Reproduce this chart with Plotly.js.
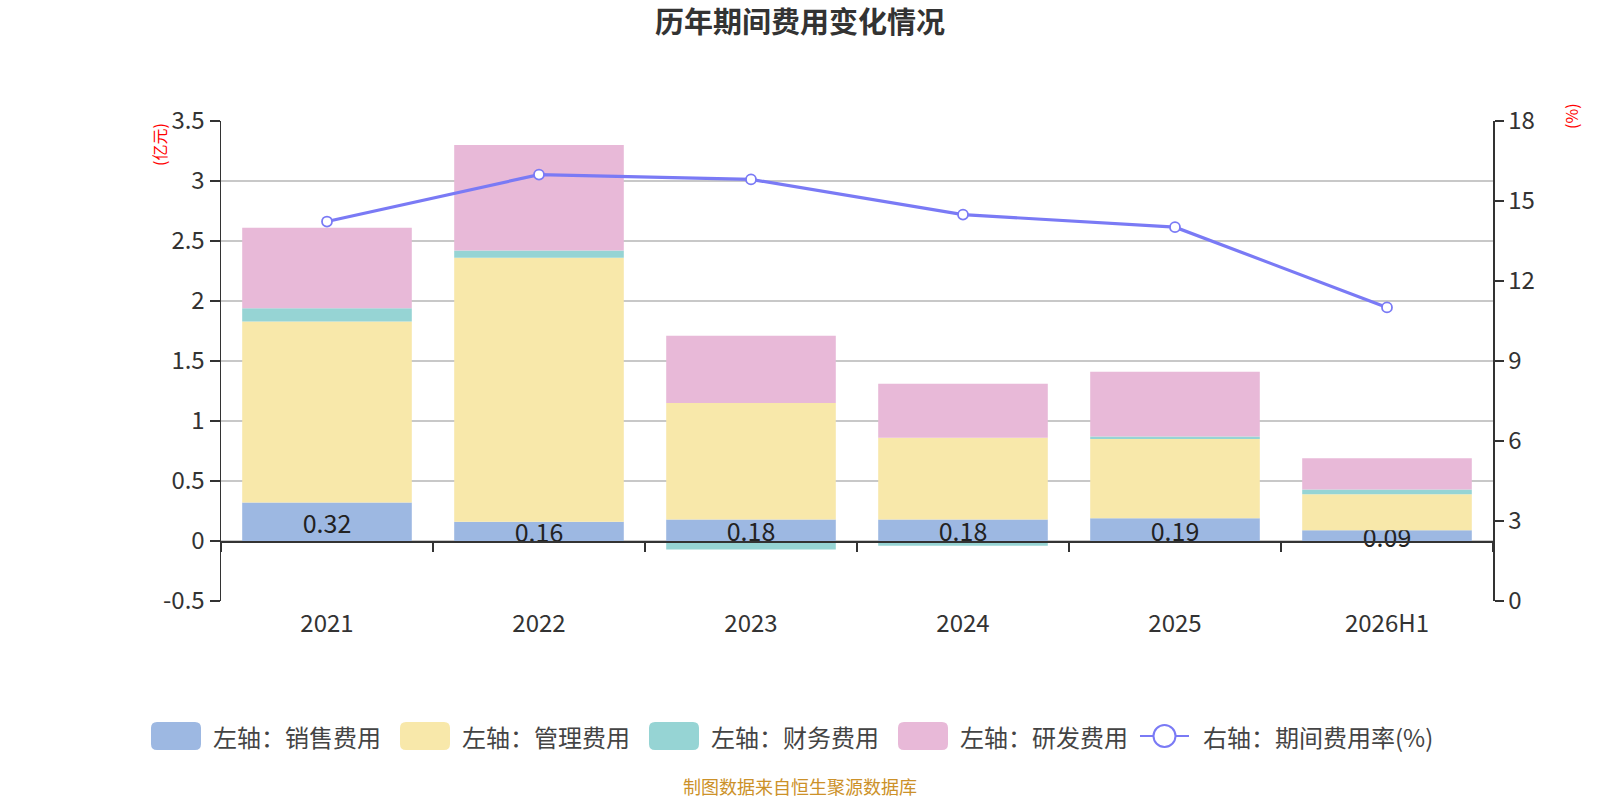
<!DOCTYPE html>
<html>
<head>
<meta charset="utf-8">
<script src="https://cdn.plot.ly/plotly-3.0.1.min.js"></script>
<style>
  html, body { margin: 0; padding: 0; background: #fff; }
  #chart { width: 1600px; height: 800px; }
</style>
</head>
<body>
<div id="chart"></div>
<script>
// values (亿元 / %)
const categories = ['2021', '2022', '2023', '2024', '2025', '2026H1'];
const sales = [0.32, 0.16, 0.18, 0.18, 0.19, 0.09];
const admin = [1.51, 2.20, 0.97, 0.68, 0.66, 0.30];
const finance = [0.11, 0.06, -0.07, -0.04, 0.02, 0.04];
const rnd = [0.67, 0.88, 0.56, 0.45, 0.54, 0.26];
const rate = [14.23, 15.99, 15.81, 14.49, 14.02, 11.01];

const barNames = ['左轴：销售费用', '左轴：管理费用', '左轴：财务费用', '左轴：研发费用'];
const rateName = '右轴：期间费用率(%)';
const barColors = ['#9db8e2', '#f8e8aa', '#96d4d4', '#e8b9d8'];
const lineColor = '#7a7af5';

const FONT = '"Noto Sans CJK SC", "Noto Sans", sans-serif';
const W = 1600;
const H = 800;
const margin = { l: 221, r: 107, t: 121, b: 199 };
const plotW = W - margin.l - margin.r;
const plotH = H - margin.t - margin.b;
const leftRange = [-0.5, 3.5];
const rightRange = [0, 18];

// pixel -> paper helpers for the hand-made legend
const px = (x) => (x - margin.l) / plotW;
const py = (y) => (H - margin.b - y) / plotH;

function roundRect(x, y, w, h, r) {
  const p = (a, b) => `${px(a)},${py(b)}`;
  return `M${p(x + r, y)} L${p(x + w - r, y)} Q${p(x + w, y)} ${p(x + w, y + r)}`
    + ` L${p(x + w, y + h - r)} Q${p(x + w, y + h)} ${p(x + w - r, y + h)}`
    + ` L${p(x + r, y + h)} Q${p(x, y + h)} ${p(x, y + h - r)}`
    + ` L${p(x, y + r)} Q${p(x, y)} ${p(x + r, y)} Z`;
}

function ticks(range, step) {
  const vals = [];
  for (let v = range[0]; v <= range[1] + 1e-9; v += step) vals.push(Math.round(v * 100) / 100);
  return vals;
}

const traces = [sales, admin, finance, rnd].map((vals, i) => ({
  type: 'bar',
  name: barNames[i],
  x: categories,
  y: vals,
  marker: { color: barColors[i], line: { width: 0 } },
  hoverinfo: 'skip',
  showlegend: false,
}));

Object.assign(traces[0], {
  text: sales.map((v) => v.toFixed(2)),
  textposition: 'inside',
  insidetextanchor: 'middle',
  constraintext: 'none',
  textangle: 0,
  insidetextfont: { family: FONT, size: 25, color: '#222' },
});

traces.push({
  type: 'scatter',
  mode: 'lines+markers',
  name: rateName,
  x: categories,
  y: rate,
  xaxis: 'x2',
  yaxis: 'y2',
  line: { color: lineColor, width: 3.2 },
  marker: { symbol: 'circle', size: 10, color: '#fff', line: { color: lineColor, width: 1.8 } },
  hoverinfo: 'skip',
  showlegend: false,
});

// legend drawn by hand so the swatches match the big rounded boxes
const ctx = document.createElement('canvas').getContext('2d');
ctx.font = `24px ${FONT}`;
const shapes = [];
const annotations = [];
const legendY = 736;
let cursor = 151;

barNames.forEach((name, i) => {
  shapes.push({
    type: 'path', xref: 'paper', yref: 'paper',
    path: roundRect(cursor, legendY - 14, 50, 28, 6),
    fillcolor: barColors[i], line: { width: 0 },
  });
  annotations.push({
    xref: 'paper', yref: 'paper', x: px(cursor + 60), y: py(legendY),
    xanchor: 'left', yanchor: 'middle', showarrow: false,
    text: name, font: { family: FONT, size: 24, color: '#444' },
  });
  cursor += 60 + ctx.measureText(name).width + 21;
});

shapes.push({
  type: 'line', xref: 'paper', yref: 'paper',
  x0: px(cursor - 7), x1: px(cursor + 42), y0: py(legendY), y1: py(legendY),
  line: { color: lineColor, width: 2 },
});
shapes.push({
  type: 'circle', xref: 'paper', yref: 'paper',
  x0: px(cursor + 17.5 - 11), x1: px(cursor + 17.5 + 11),
  y0: py(legendY + 11), y1: py(legendY - 11),
  fillcolor: '#fff', line: { color: lineColor, width: 2 },
});
annotations.push({
  xref: 'paper', yref: 'paper', x: px(cursor + 54), y: py(legendY),
  xanchor: 'left', yanchor: 'middle', showarrow: false,
  text: rateName, font: { family: FONT, size: 24, color: '#444' },
});

annotations.push(
  {
    xref: 'paper', yref: 'paper', x: px(159), y: py(145), textangle: -90,
    xanchor: 'center', yanchor: 'middle',
    showarrow: false, text: '(亿元)', font: { family: FONT, size: 16, color: '#ff0000' },
  },
  {
    xref: 'paper', yref: 'paper', x: px(1571), y: py(116), textangle: -90,
    xanchor: 'center', yanchor: 'middle',
    showarrow: false, text: '(%)', font: { family: FONT, size: 16, color: '#ff0000' },
  },
  {
    xref: 'paper', yref: 'paper', x: px(800), y: py(786),
    xanchor: 'center', yanchor: 'middle', borderpad: 0,
    showarrow: false, text: '制图数据来自恒生聚源数据库',
    font: { family: FONT, size: 18, color: '#cc9129' },
  },
);

const leftTicks = ticks(leftRange, 0.5);
const rightTicks = ticks(rightRange, 3);
const axisFont = { family: FONT, size: 24, color: '#333' };
const catRange = [-0.5, categories.length - 0.5];

const layout = {
  width: W,
  height: H,
  margin: margin,
  paper_bgcolor: '#fff',
  plot_bgcolor: '#fff',
  font: { family: FONT, color: '#333' },
  title: {
    text: '<b>历年期间费用变化情况</b>',
    font: { family: FONT, size: 29, color: '#333' },
    x: 0.5, xref: 'container', y: 1 - 23 / H, yref: 'container', yanchor: 'middle',
  },
  barmode: 'relative',
  bargap: 0.2,
  showlegend: false,
  xaxis: {
    type: 'category',
    range: catRange,
    showgrid: false,
    zeroline: false,
    showline: false,
    ticks: '',
    ticklabelstandoff: 6,
    tickfont: axisFont,
  },
  xaxis2: {
    type: 'category',
    overlaying: 'x',
    anchor: 'free',
    position: (0 - leftRange[0]) / (leftRange[1] - leftRange[0]),
    range: catRange,
    showline: true,
    linecolor: '#333',
    linewidth: 1.5,
    ticks: 'outside',
    tickson: 'boundaries',
    ticklen: 9,
    tickwidth: 1.5,
    tickcolor: '#333',
    showticklabels: false,
    showgrid: false,
    zeroline: false,
  },
  yaxis: {
    range: leftRange,
    tickmode: 'array',
    tickvals: leftTicks,
    ticktext: leftTicks.map(String),
    showline: true,
    linecolor: '#333',
    linewidth: 1.5,
    ticks: 'outside',
    ticklen: 10,
    tickwidth: 1.5,
    tickcolor: '#333',
    gridcolor: '#c8c8c8',
    gridwidth: 1.2,
    zeroline: false,
    tickfont: axisFont,
  },
  yaxis2: {
    overlaying: 'y',
    side: 'right',
    range: rightRange,
    tickmode: 'array',
    tickvals: rightTicks,
    ticktext: rightTicks.map(String),
    showline: true,
    linecolor: '#333',
    linewidth: 1.5,
    ticks: 'outside',
    ticklen: 9,
    tickwidth: 1.5,
    tickcolor: '#333',
    showgrid: false,
    zeroline: false,
    tickfont: axisFont,
  },
  shapes: shapes,
  annotations: annotations,
};

Plotly.newPlot('chart', traces, layout, { displayModeBar: false, staticPlot: true });
</script>
</body>
</html>
